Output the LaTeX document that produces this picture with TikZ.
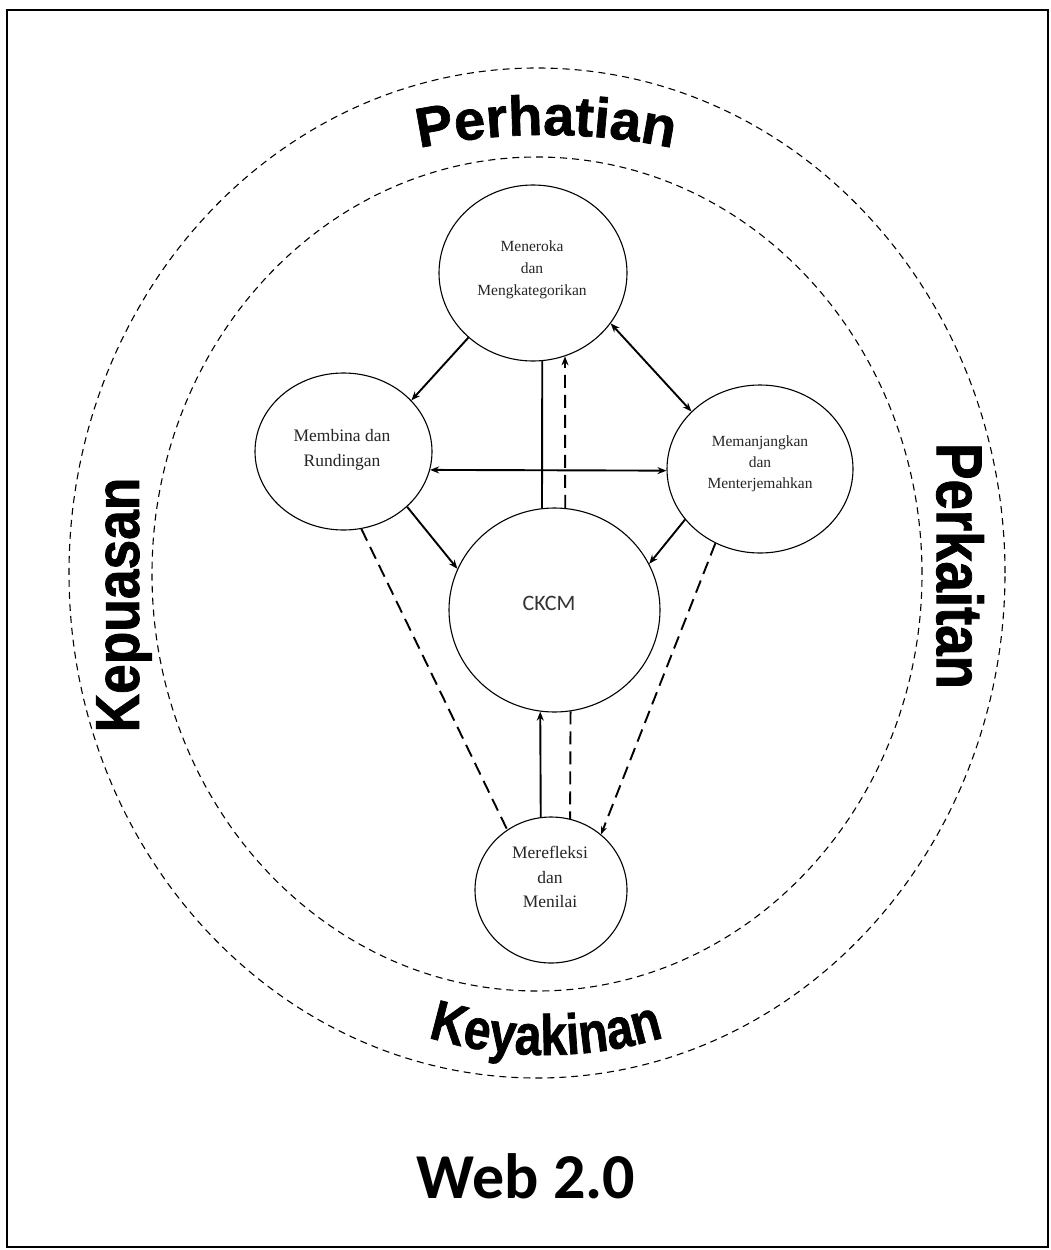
\documentclass[tikz,border=0pt]{standalone}
\usepackage{fontspec}
\usetikzlibrary{shapes.geometric,arrows.meta,decorations.text}
\setmainfont{Liberation Serif}
\newfontfamily\wafont{Liberation Sans Bold}[FakeBold=1.2]
\newfontfamily\wafontK{Liberation Sans Bold}[FakeStretch=0.84,FakeBold=1.2]
\newfontfamily\wafontV{Liberation Sans Bold}[FakeStretch=0.86,FakeBold=1.2]
\newfontfamily\wafontP{Liberation Sans Bold}[FakeStretch=0.84,FakeBold=1.2]
\newfontfamily\calfont{Carlito}
\newcommand\perhfont{\wafont\fontsize{56}{60}\selectfont}
\newcommand\keyfont{\wafontK\fontsize{57}{60}\selectfont}
\newcommand\kepfont{\wafontV\fontsize{62}{66}\selectfont}
\newcommand\perkfont{\wafontP\fontsize{65}{68}\selectfont}
\begin{document}
\begin{tikzpicture}[x=1pt,y=1pt,
  bubble/.style={ellipse, draw, line width=1.1pt, inner sep=0pt, fill=white},
  lbl/.style={align=center, text=black!85, inner sep=0pt},
  ring/.style={line width=1.1pt, dash pattern=on 7pt off 5pt},
  con/.style={line width=1.9pt},
  arr/.style={con, -{Stealth[length=9pt,width=7pt]}},
  darr/.style={con, {Stealth[length=9pt,width=7pt]}-{Stealth[length=9pt,width=7pt]}},
  dsh/.style={con, dash pattern=on 13pt off 7pt},
  big/.style={inner sep=0pt, text=black}]
\useasboundingbox (0,0) rectangle (1051,-1250);
\fill[white] (0,0) rectangle (1051,-1250);
\draw[line width=1.6pt] (7,-10) rectangle (1048,-1247);

% rings
\draw[ring] (537,-573) ellipse [x radius=468, y radius=505];
\draw[ring] (537,-574) ellipse [x radius=385, y radius=417];

% curved ring labels
\path[decorate, decoration={text along path, text={|\perhfont|Perhatian}, text align=center}]
  (546,-755) ++(115:620) arc (115:65:620);
\path[decorate, decoration={text along path, text={|\keyfont|Keyakinan}, text align=center}]
  (546,-652) ++(235:403) arc (235:305:403);
\node[big, rotate=90, font=\kepfont] (kep) at (124,-605) {Kepuasan};
\node[big, rotate=-90, font=\perkfont] (perk) at (960,-566) {Perkaitan};

% bubbles
\node[bubble, minimum width=188, minimum height=176] (T) at (533,-273) {};
\node[bubble, minimum width=177, minimum height=157] (L) at (343.5,-451.5) {};
\node[bubble, minimum width=186, minimum height=168] (R) at (760,-469) {};
\node[bubble, minimum width=211, minimum height=204] (C) at (554.5,-610) {};
\node[bubble, minimum width=152, minimum height=146] (B) at (551,-890) {};

% bubble texts
\node[lbl, font=\fontsize{15.5}{22}\selectfont] (Tt) at (532,-270) {Meneroka\\dan\\Mengkategorikan};
\node[lbl, font=\fontsize{17.5}{25}\selectfont] (Lt) at (342,-449.5) {Membina dan\\Rundingan};
\node[lbl, font=\fontsize{15.5}{21}\selectfont] (Rt) at (760,-464) {Memanjangkan\\dan\\Menterjemahkan};
\node[lbl, font=\calfont\fontsize{22}{26}\selectfont, text=black!80] (Ct) at (549,-603) {CKCM};
\node[lbl, font=\fontsize{17.5}{24.5}\selectfont] (Bt) at (550,-877) {Merefleksi\\dan\\Menilai};

% connectors
\draw[arr] (T.225) -- (L.37);
\draw[darr] (T.327) -- (R.140);
\draw[con] (T.276) -- (C.97);
\draw[dsh, -{Stealth[length=9pt,width=7pt]}] (C.84) -- (T.291);
\draw[darr] (L.348) -- (R.181);
\draw[arr] (L.319) -- (C.157);
\draw[arr] (R.214) -- (C.26);
\draw[dsh] (L.283) -- (B.126);
\draw[dsh, -{Stealth[length=8pt,width=6pt]}] (R.239) -- (B.48);
\draw[arr] (B.98) -- (C.262);
\draw[dsh] (C.279) -- (B.75);

% title
\node[big, font=\calfont\bfseries\fontsize{64}{70}\selectfont] (web) at (526,-1176) {Web 2.0};
\end{tikzpicture}
\end{document}
